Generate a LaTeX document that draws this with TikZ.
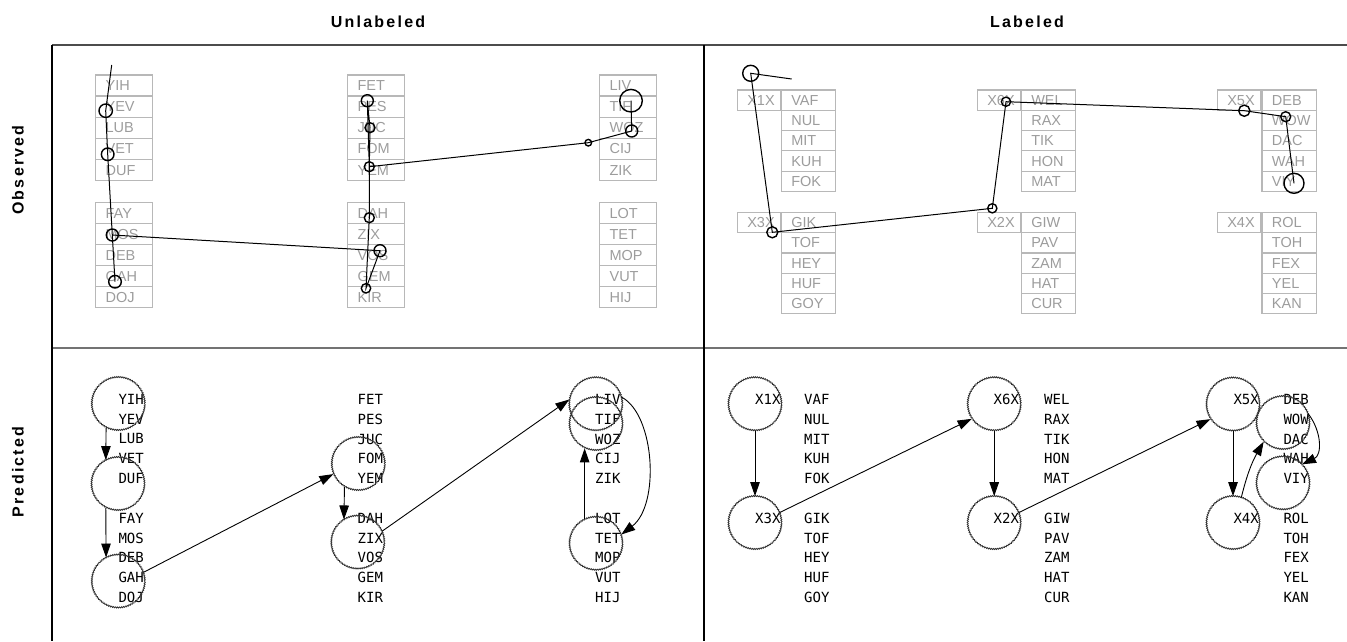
\documentclass[tikz,border=0pt]{standalone}
\usepackage{fontspec}
\setmainfont{Liberation Sans}
\newfontfamily\hdrfont[LetterSpace=14]{Liberation Sans}
\newfontfamily\pixfont{DejaVu Sans Mono}
\usetikzlibrary{decorations.pathmorphing,arrows.meta}
\definecolor{boxgray}{HTML}{B8B8B8}
\definecolor{txtgray}{HTML}{9C9C9C}
\newcommand\obscol[6]{% x, ytop, rowh, width, prefix, list
  \foreach \w [count=\i from 0] in {#6} {\node[obox, minimum height=#3pt, minimum width=#4pt, text width=#4pt-20pt] (#5-\w) at (#1, #2+#3*\i) {\w};}}
\newcommand\predcol[4]{% x, ytop, prefix, list
  \foreach \w [count=\i from 0] in {#4} {\node[ptext] (#3-\w) at (#1, #2+19.7*\i) {\w};}}
\begin{document}
\begin{tikzpicture}[x=1pt,y=-1pt,
  obox/.style={draw=boxgray, line width=1.2pt, anchor=north west, inner xsep=10pt, inner ysep=0pt,
     align=left, text=txtgray, text height=10.4pt, text depth=0pt, font=\fontsize{14.5}{14.5}\selectfont},
  ptext/.style={anchor=west, inner sep=0pt, font=\pixfont\fontsize{14}{14}\selectfont},
  hdr/.style={font=\hdrfont\bfseries\fontsize{16}{16}\selectfont, inner sep=0pt},
  gz/.style={line width=1pt, black},
  gc/.style={line width=1.4pt, black},
  pcirc/.style={circle, draw=black!80, minimum size=53pt, inner sep=0pt, line width=0.8pt,
     decorate, decoration={snake, amplitude=0.55pt, segment length=2pt}},
  parr/.style={-{Triangle[length=14pt,width=9.5pt]}, line width=0.9pt, black}
]
\useasboundingbox (0,0) rectangle (1347,641);
% frame
\draw[line width=1.5pt, black!70] (52,45) -- (1347,45);
\draw[line width=2pt, black!55] (52,348) -- (1347,348);
\draw[line width=1.2pt, black] (52,45) -- (52,641);
\draw[line width=1.2pt, black] (704,45) -- (704,641);
% headers
\node[hdr] (hU) at (378,22) {Unlabeled};
\node[hdr] (hL) at (1027,22) {Labeled};
\node[hdr, rotate=90] (hO) at (18,170) {Observed};
\node[hdr, rotate=90] (hP) at (18,472) {Predicted};

% ---------- Observed / Unlabeled ----------
\obscol{95}{74.3}{21.1}{57}{ol}{YIH,YEV,LUB,VET,DUF}
\obscol{95}{201.7}{21.1}{57}{ol}{FAY,MOS,DEB,GAH,DOJ}
\obscol{347}{74.3}{21.1}{57}{ol}{FET,PES,JUC,FOM,YEM}
\obscol{347}{201.7}{21.1}{57}{ol}{DAH,ZIX,VOS,GEM,KIR}
\obscol{599}{74.3}{21.1}{57}{ol}{LIV,TIF,WOZ,CIJ,ZIK}
\obscol{599}{201.7}{21.1}{57}{ol}{LOT,TET,MOP,VUT,HIJ}
% gaze trace
\coordinate (g0) at (111.7,65);
\coordinate (g1) at (105.7,110.7);
\coordinate (g2) at (107.7,154.3);
\coordinate (g3) at (112.3,235);
\coordinate (g4) at (115,281.7);
\coordinate (g5) at (380,250.7);
\coordinate (g6) at (366,288.3);
\coordinate (g7) at (369.3,217.7);
\coordinate (g8) at (369.3,166.7);
\coordinate (g9) at (370,127.7);
\coordinate (g10) at (367.3,100.7);
\coordinate (g11) at (588.3,142.7);
\coordinate (g12) at (631.7,131);
\coordinate (g13) at (631,100.7);
\draw[gz] (g0) -- (g1) -- (g2) -- (g3) -- (g4);
\draw[gz] (g3) -- (g5) -- (g6) -- (g7) -- (g8) -- (g9) -- (g10) -- (g8);
\draw[gz] (g8) -- (g11) -- (g12) -- (g13);
\draw[gc] (g1) circle (6.7) (g2) circle (6.3) (g3) circle (6) (g4) circle (6.3)
  (g5) circle (6) (g6) circle (4.7) (g7) circle (5) (g8) circle (5) (g9) circle (5)
  (g10) circle (6) (g11) circle (3.3) (g12) circle (6) (g13) circle (11.3);

% ---------- Observed / Labeled ----------
\obscol{736.7}{89.3}{20.3}{43}{orl}{X1X}
\obscol{736.7}{211.7}{20.3}{43}{orl}{X3X}
\obscol{976.7}{89.3}{20.3}{43}{orl}{X6X}
\obscol{976.7}{211.7}{20.3}{43}{orl}{X2X}
\obscol{1216.7}{89.3}{20.3}{43}{orl}{X5X}
\obscol{1216.7}{211.7}{20.3}{43}{orl}{X4X}
\obscol{780.7}{89.3}{20.3}{54.3}{or}{VAF,NUL,MIT,KUH,FOK}
\obscol{780.7}{211.7}{20.3}{54.3}{or}{GIK,TOF,HEY,HUF,GOY}
\obscol{1020.7}{89.3}{20.3}{54.3}{or}{WEL,RAX,TIK,HON,MAT}
\obscol{1020.7}{211.7}{20.3}{54.3}{or}{GIW,PAV,ZAM,HAT,CUR}
\obscol{1261.3}{89.3}{20.3}{54.3}{or}{DEB,WOW,DAC,WAH,VIY}
\obscol{1261.3}{211.7}{20.3}{54.3}{or}{ROL,TOH,FEX,YEL,KAN}
\coordinate (h0) at (750.7,73.3);
\coordinate (ht) at (791.7,79);
\coordinate (h1) at (772.3,232.3);
\coordinate (h2) at (992.3,208.3);
\coordinate (h3) at (1006,101.7);
\coordinate (h4) at (1244.3,110.7);
\coordinate (h5) at (1285.7,116.7);
\coordinate (h6) at (1294,183.3);
\draw[gz] (ht) -- (h0) -- (h1) -- (h2) -- (h3) -- (h4) -- (h5) -- (h6);
\draw[gc] (h0) circle (8) (h1) circle (5.5) (h2) circle (4.6) (h3) circle (4.6)
  (h4) circle (5.6) (h5) circle (5) (h6) circle (10);

% ---------- Predicted / Unlabeled ----------
\predcol{118.3}{399.5}{pl}{YIH,YEV,LUB,VET,DUF}
\predcol{118.3}{518.3}{pl}{FAY,MOS,DEB,GAH,DOJ}
\predcol{357.5}{399.5}{pl}{FET,PES,JUC,FOM,YEM}
\predcol{357.5}{518.3}{pl}{DAH,ZIX,VOS,GEM,KIR}
\predcol{595}{399.5}{pl}{LIV,TIF,WOZ,CIJ,ZIK}
\predcol{595}{518.3}{pl}{LOT,TET,MOP,VUT,HIJ}
\node[pcirc] (pcA) at (118.3,404) {};
\node[pcirc] (pcB) at (118,484) {};
\node[pcirc] (pcC) at (118.3,581.5) {};
\node[pcirc] (pcD) at (358.3,464) {};
\node[pcirc] (pcE) at (357.8,542.5) {};
\node[pcirc] (pcF) at (595.8,404.2) {};
\node[pcirc] (pcG) at (596,424) {};
\node[pcirc] (pcH) at (596,543.7) {};
\draw[parr] (pcA.243) -- (pcB.117);
\draw[parr] (pcB.243) -- (pcC.117);
\draw[parr] (pcC.20) -- (pcD.202);
\draw[parr] (pcD.239) -- (pcE.121);
\draw[parr] (pcE.25) -- (pcF.170);
\draw[parr] (pcH.115) -- (pcG.245);
\draw[parr] (pcF.15) .. controls (655,415) and (660,505) .. (pcH.20);

% ---------- Predicted / Labeled ----------
\predcol{755}{399.5}{prl}{X1X}
\predcol{755}{518.3}{prl}{X3X}
\predcol{993.5}{399.5}{prl}{X6X}
\predcol{993.5}{518.3}{prl}{X2X}
\predcol{1233.3}{399.5}{prl}{X5X}
\predcol{1233.3}{518.3}{prl}{X4X}
\predcol{804}{399.5}{pr}{VAF,NUL,MIT,KUH,FOK}
\predcol{804}{518.3}{pr}{GIK,TOF,HEY,HUF,GOY}
\predcol{1044}{399.5}{pr}{WEL,RAX,TIK,HON,MAT}
\predcol{1044}{518.3}{pr}{GIW,PAV,ZAM,HAT,CUR}
\predcol{1283.3}{399.5}{pr}{DEB,WOW,DAC,WAH,VIY}
\predcol{1283.3}{518.3}{pr}{ROL,TOH,FEX,YEL,KAN}
\node[pcirc] (qX1) at (755,404.2) {};
\node[pcirc] (qX3) at (755,523) {};
\node[pcirc] (qX6) at (994.2,404.2) {};
\node[pcirc] (qX2) at (994.2,523) {};
\node[pcirc] (qX5) at (1233,404.5) {};
\node[pcirc] (qX4) at (1233,523) {};
\node[pcirc] (qWOW) at (1283,423) {};
\node[pcirc] (qVIY) at (1283,483.3) {};
\draw[parr] (qX1.south) -- (qX3.north);
\draw[parr] (qX6.south) -- (qX2.north);
\draw[parr] (qX5.south) -- (qX4.north);
\draw[parr] (qX3.23) -- (qX6.213);
\draw[parr] (qX2.23) -- (qX5.213);
\draw[parr] (qX4.72) to[bend left=8] (qWOW.224);
\draw[parr] (qWOW.20) .. controls (1322,432) and (1322,455) .. (qVIY.45);
\end{tikzpicture}
\end{document}
